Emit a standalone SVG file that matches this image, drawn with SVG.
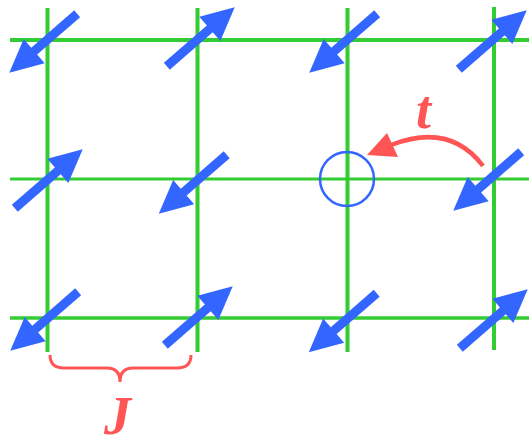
<svg xmlns="http://www.w3.org/2000/svg" xmlns:xlink="http://www.w3.org/1999/xlink" width="529" height="448" viewBox="0 0 529 448">
<style>
.lat{stroke:#33cc33;fill:none}
.red{stroke:#ff5555;fill:none}
.lbl{font-family:"Liberation Serif",serif;font-weight:bold;font-style:italic;fill:#ff5555}
</style>
<defs>
<g id="spin">
<line x1="-40" y1="0" x2="20" y2="0" stroke="#3366ff" stroke-width="9"/>
<polygon points="50,0 17,-16 17,16" fill="#3366ff"/>
</g>
</defs>
<rect width="529" height="448" fill="#ffffff"/>
<g id="connectors">
<line class="lat" x1="10" y1="40" x2="529" y2="40" stroke-width="4"/>
<line class="lat" x1="10" y1="179" x2="529" y2="179" stroke-width="3"/>
<line class="lat" x1="10" y1="318" x2="529" y2="318" stroke-width="3.5"/>
<line class="lat" x1="47.5" y1="8" x2="47.5" y2="352" stroke-width="4"/>
<line class="lat" x1="197.5" y1="8" x2="197.5" y2="352" stroke-width="4"/>
<line class="lat" x1="347.5" y1="8" x2="347.5" y2="352" stroke-width="4"/>
<line class="lat" x1="494" y1="7" x2="494" y2="350" stroke-width="4"/>
<path class="red" d="M483,166 Q450,122 391,145" stroke-width="4.5"/>
<polygon points="367,155 387,133 398,157" fill="#ff5555"/>
</g>
<g id="site-0-0"><use xlink:href="#spin" transform="translate(47,40) rotate(139)"/></g>
<g id="site-1-0"><use xlink:href="#spin" transform="translate(197,40) rotate(-41)"/></g>
<g id="site-2-0"><use xlink:href="#spin" transform="translate(347,40) rotate(139)"/></g>
<g id="site-3-0"><use xlink:href="#spin" transform="translate(489,43) rotate(-41)"/></g>
<g id="site-0-1"><use xlink:href="#spin" transform="translate(45,182) rotate(-41)"/></g>
<g id="site-1-1"><use xlink:href="#spin" transform="translate(196.5,181) rotate(139)"/></g>
<g id="site-2-1"><circle cx="347" cy="179" r="27" fill="none" stroke="#3366ff" stroke-width="2.5"/></g>
<g id="site-3-1"><use xlink:href="#spin" transform="translate(491,178) rotate(139)"/></g>
<g id="site-0-2"><use xlink:href="#spin" transform="translate(48,318) rotate(139)"/></g>
<g id="site-1-2"><use xlink:href="#spin" transform="translate(195,319) rotate(-41)"/></g>
<g id="site-2-2"><use xlink:href="#spin" transform="translate(346.5,319.5) rotate(139)"/></g>
<g id="site-3-2"><use xlink:href="#spin" transform="translate(490,322) rotate(-41)"/></g>
<g id="label-t"><text class="lbl" x="416" y="128" font-size="54">t</text></g>
<g id="label-J">
<path class="red" stroke-width="3" d="M50,355 Q50,368 64,368 L107,368 Q120,368 120,382 Q120,368 133,368 L177,368 Q191,368 191,355"/>
<text class="lbl" x="104" y="434" font-size="54">J</text>
</g>
</svg>
